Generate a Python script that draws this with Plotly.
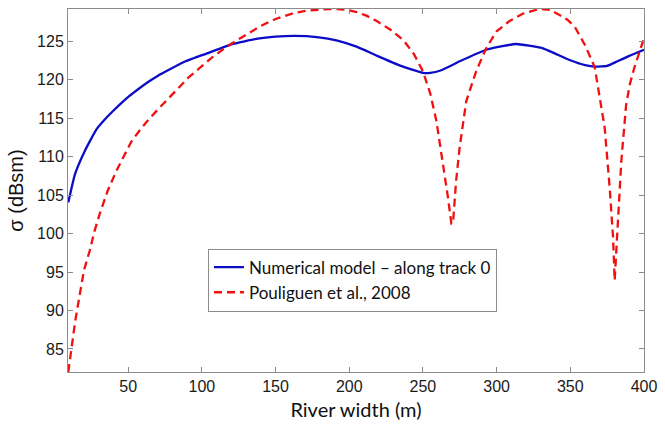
import plotly.graph_objects as go

# Numerical model – along track 0
model_x = [9.4, 13.9, 20.6, 28.5, 34, 39.6, 45, 50.9, 57, 64.3, 70, 77.7, 89, 104.6, 120, 138, 150, 163, 178, 192,
           205, 219, 235, 250, 255, 262, 275, 293, 313, 331, 349, 360, 367, 375, 382, 390, 400]
model_y = [104.05, 107.7, 110.75, 113.55, 114.8, 115.9, 116.9, 117.9, 118.8, 119.8, 120.5, 121.3, 122.4, 123.5,
           124.6, 125.35, 125.6, 125.7, 125.55, 125.1, 124.3, 123.1, 121.8, 120.9, 120.9, 121.2, 122.4, 123.9,
           124.65, 124.1, 122.6, 121.9, 121.7, 121.8, 122.4, 123.1, 123.9]

# Pouliguen et al., 2008
ref_x = [9.4, 11.7, 14, 17.3, 20, 24, 27, 30.7, 36, 41.9, 47, 52, 57, 62, 70, 77.7, 84, 91, 99, 107, 114, 120,
         127, 134, 140, 150, 163, 172, 180, 186, 192, 198, 205, 212, 219, 228, 237, 244, 250, 255, 259.2, 263.7,
         267, 269.3, 270.4, 272.5, 274.9, 279.4, 286.1, 292.9, 300, 308.5, 318, 329, 336, 342, 348, 353, 360,
         366.6, 370, 373.3, 376.7, 379, 380.1, 381.2, 384.6, 387.9, 390.5, 393.5, 397, 400]
ref_y = [82, 85.3, 88.5, 92.2, 95.2, 97.8, 100.2, 102.55, 105.5, 108.1, 110.1, 111.9, 113.2, 114.4, 116.1,
         117.6, 118.9, 120.3, 121.6, 122.9, 123.9, 124.7, 125.5, 126.3, 127.0, 127.9, 128.7, 129.0, 129.15, 129.2,
         129.2, 129.1, 128.8, 128.3, 127.6, 126.5, 125.1, 123.3, 121.1, 118.2, 114.6, 109.2, 104.7, 101.3, 101.3,
         106.8, 111.2, 117.2, 121.1, 124.1, 126.3, 127.6, 128.6, 129.2, 129.1, 128.5, 127.8, 126.9, 124.5, 121.6,
         117.8, 113.8, 106, 99.5, 93.9, 97.8, 109.4, 116.8, 119.5, 121.6, 123.7, 125.4]

x_ticks = [50, 100, 150, 200, 250, 300, 350, 400]
y_ticks = [85, 90, 95, 100, 105, 110, 115, 120, 125]

fig = go.Figure()
fig.add_trace(go.Scatter(x=model_x, y=model_y, mode="lines", name="Numerical model \u2013 along track 0",
                         line=dict(color="#0c0cc8", width=2.3, shape="spline", smoothing=0.4)))
fig.add_trace(go.Scatter(x=ref_x, y=ref_y, mode="lines", name="Pouliguen et al., 2008",
                         line=dict(color="#f01010", width=2.3, dash="8px,5px")))

axis_common = dict(showline=True, linecolor="#8c8c8c", linewidth=1, mirror="ticks", ticks="inside",
                   ticklen=5, tickcolor="#8c8c8c", showgrid=False, zeroline=False,
                   tickfont=dict(family="Liberation Sans, Arial", size=16, color="#1a1a1a"))

fig.update_xaxes(range=[9.2, 400], tickvals=x_ticks, **axis_common,
                 title=dict(text="River width (m)", font=dict(family="Lato, Noto Sans", size=20, color="#111"),
                            standoff=8))
fig.update_yaxes(range=[82, 129.2], tickvals=y_ticks, **axis_common,
                 title=dict(text="\u03c3 (dBsm)", font=dict(family="Liberation Sans, Arial", size=20, color="#111"),
                            standoff=8))

fig.update_layout(
    width=665, height=432,
    margin=dict(l=68, r=15, t=8, b=60),
    plot_bgcolor="white", paper_bgcolor="white",
    showlegend=True,
    hovermode=False,
    legend=dict(x=0.243, y=0.34, xanchor="left", yanchor="top",
                bgcolor="white", bordercolor="#8c8c8c", borderwidth=1,
                font=dict(family="Lato, Noto Sans", size=17, color="#111"),
                tracegroupgap=0, itemwidth=30),
)

fig.write_html("out.html", config={"displayModeBar": False},
               post_script="document.body.style.margin='0';document.body.style.overflow='hidden';")
